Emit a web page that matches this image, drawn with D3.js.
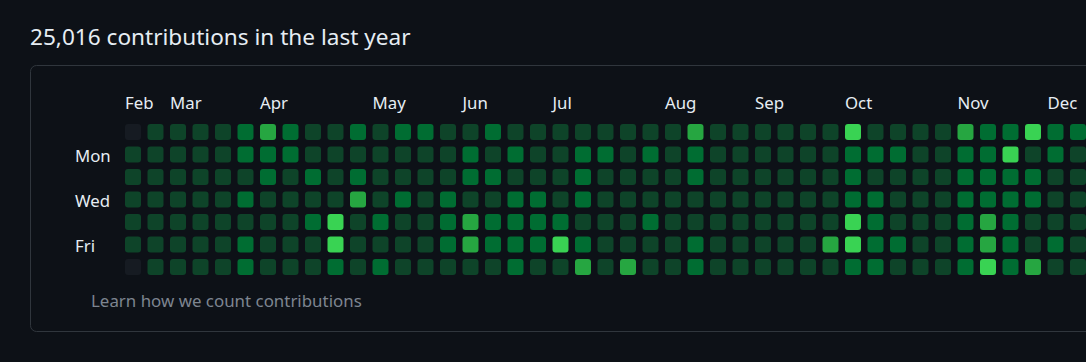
<!DOCTYPE html>
<html>
<head>
<meta charset="utf-8">
<script src="https://cdn.jsdelivr.net/npm/d3@7"></script>
<style>
  html, body { margin: 0; padding: 0; background: #0d1117; }
  svg { display: block; }
  text { font-family: "Noto Sans", "Open Sans", sans-serif; }
</style>
</head>
<body>
<svg id="graph" width="1086" height="362"></svg>
<script>
// contribution level per week column (0..4), one array per weekday row
const sun = [0,1,1,1,1,2,3,2,1,1,2,1,2,2,1,1,2,1,1,1,1,1,1,1,1,3,1,1,1,1,1,1,4,1,1,1,1,3,2,2,4,2,2]
const mon = [1,1,1,1,1,2,2,2,1,1,1,1,1,1,1,2,1,2,1,1,2,2,1,2,1,2,1,1,1,1,1,1,2,2,2,1,1,2,2,4,1,2,1]
const tue = [1,1,1,1,1,1,2,1,2,1,2,1,1,1,1,2,2,1,1,1,2,1,1,1,1,2,1,1,1,1,1,1,2,1,1,1,1,2,2,2,2,1,1]
const wed = [1,1,1,1,1,2,1,1,1,1,3,1,2,1,2,1,1,2,2,1,2,1,1,1,1,1,1,1,1,1,1,1,2,2,1,1,1,2,2,2,2,1,1]
const thu = [1,1,1,1,1,1,1,1,2,4,1,2,1,1,2,3,2,2,2,2,1,1,1,2,1,1,1,1,1,1,1,1,4,2,1,1,1,2,3,2,1,1,1]
const fri = [1,1,1,1,1,2,1,1,1,4,1,1,1,1,2,3,2,2,2,4,2,1,1,1,1,2,1,1,1,1,1,3,4,2,2,1,1,2,3,2,1,2,1]
const sat = [0,1,1,1,1,2,1,1,1,2,1,2,1,1,1,1,1,2,1,1,3,1,3,1,1,2,1,1,1,1,1,1,2,2,1,1,1,2,4,2,3,1,1]

const rows = [sun, mon, tue, wed, thu, fri, sat]

// month label and the week column where it starts
const months = ['Feb','Mar','Apr','May','Jun','Jul','Aug','Sep','Oct','Nov','Dec']
const monthCols = [0,2,6,11,15,19,24,28,32,37,41]

const dayLabels = ['Mon','Wed','Fri']
const dayRows = [1,3,5]

const levelColors = ['#161b22','#0e4429','#006d32','#26a641','#39d353']

const total = 25016

const nWeeks = sun.length
const cell = 16

const svg = d3.select('#graph')

const x = d3.scaleLinear().domain([0, nWeeks - 1]).range([125, 1070])
const y = d3.scaleLinear().domain([0, 6]).range([124, 259])
const color = d3.scaleOrdinal().domain(d3.range(5)).range(levelColors)

// heading
svg.append('text')
	.attr('x', 30)
	.attr('y', 45)
	.attr('fill', '#e6edf3')
	.attr('font-size', 22.6)
	.text(d3.format(',')(total) + ' contributions in the last year')

// outer box
svg.append('rect')
	.attr('x', 30.5)
	.attr('y', 65.5)
	.attr('width', 1100)
	.attr('height', 266)
	.attr('rx', 6)
	.attr('ry', 6)
	.attr('fill', 'none')
	.attr('stroke', '#30363d')

// flatten rows into cells
const cells = []
rows.forEach((r, day) => r.forEach((lvl, week) => cells.push({ week, day, lvl })))

svg.append('g')
	.selectAll('rect')
	.data(cells)
	.join('rect')
	.attr('x', d => x(d.week))
	.attr('y', d => y(d.day))
	.attr('width', cell)
	.attr('height', cell)
	.attr('rx', 3)
	.attr('ry', 3)
	.attr('fill', d => color(d.lvl))

// month labels
svg.append('g')
	.selectAll('text')
	.data(months)
	.join('text')
	.attr('x', (d, i) => x(monthCols[i]))
	.attr('y', 109)
	.attr('fill', '#e6edf3')
	.attr('font-size', 16.8)
	.text(d => d)

// weekday labels
svg.append('g')
	.selectAll('text')
	.data(dayLabels)
	.join('text')
	.attr('x', 75)
	.attr('y', (d, i) => y(dayRows[i]) + cell / 2 + 7.5)
	.attr('fill', '#e6edf3')
	.attr('font-size', 16.8)
	.text(d => d)

// footer link
svg.append('text')
	.attr('x', 91)
	.attr('y', 307)
	.attr('fill', '#7d8590')
	.attr('font-size', 16.9)
	.text('Learn how we count contributions')
</script>
</body>
</html>
